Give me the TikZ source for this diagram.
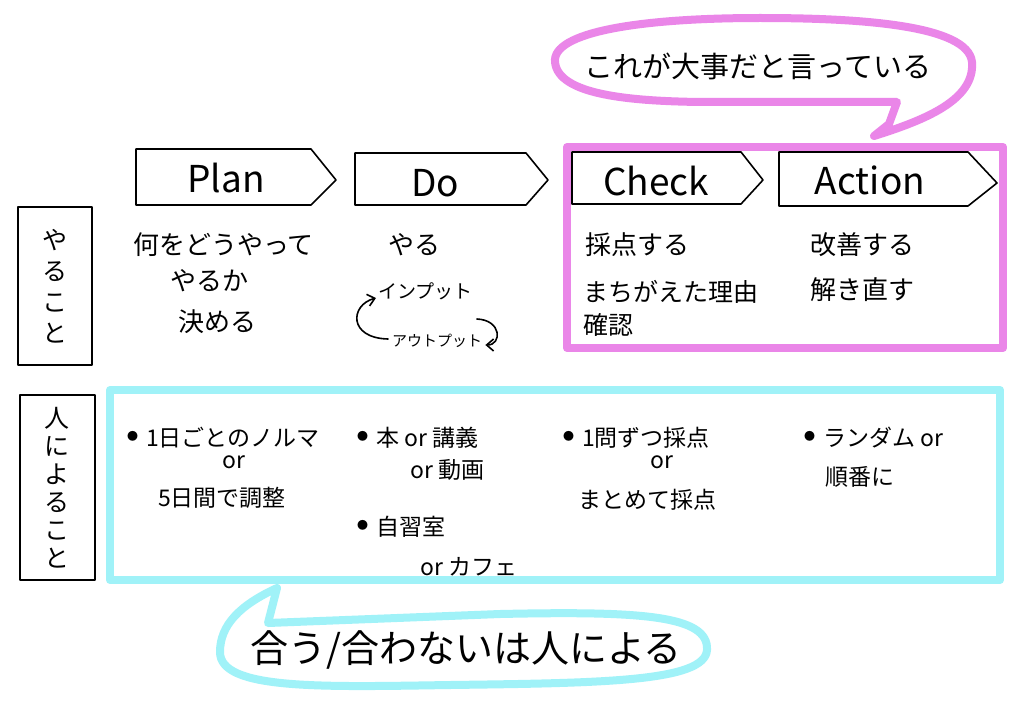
\documentclass[tikz,border=0pt]{standalone}
\usepackage{fontspec}
\setmainfont{Noto Sans CJK JP}
\usetikzlibrary{arrows.meta,calc}
\definecolor{hlpink}{RGB}{234,134,232}
\definecolor{hlcyan}{RGB}{160,242,248}
\newcommand{\bul}{\raisebox{6pt}{\fontsize{11}{11}\selectfont ●}\hspace{8pt}}
\tikzset{
  pinkline/.style={draw=hlpink,line width=8pt,line cap=round,line join=round},
  cyanline/.style={draw=hlcyan,line width=8pt,line cap=round,line join=round},
  inkline/.style={draw=black,line width=1.6pt,line join=round},
  txt/.style={inner sep=0pt,anchor=west,font=\fontsize{26}{30}\selectfont},
  small/.style={inner sep=0pt,anchor=west,font=\fontsize{23}{26}\selectfont},
  tiny/.style={inner sep=0pt,anchor=west,font=\fontsize{19}{20}\selectfont},
  stagelbl/.style={inner sep=0pt,font=\fontsize{37}{40}\selectfont},
  vlbl/.style={inner sep=0pt,align=center,font=\fontsize{25}{31}\selectfont},
  looparrow/.style={inkline,line cap=round,-{Straight Barb[length=7pt,width=12pt,line width=1.6pt]}},
}
\begin{document}
\begin{tikzpicture}[x=1pt,y=-1pt]
\useasboundingbox[fill=white] (0,0) rectangle (1024,706);

% top speech bubble
\draw[pinkline] (897,102) -- (889,124) -- (874,136)
  .. controls (925,120) and (975,100) .. (972,62)
  .. controls (968,25) and (860,18) .. (760,18)
  .. controls (640,18) and (552,32) .. (555,62)
  .. controls (558,95) and (630,101) .. (700,102) -- cycle;
\node[inner sep=0pt,font=\fontsize{29}{32}\selectfont] (imp) at (758,66) {これが大事だと言っている};

% pink frame around Check / Action
\draw[pinkline] (567,147) rectangle (1003,348);

% stage arrows
\draw[inkline] (136,149) -- (311,149) -- (336,180) -- (311,205) -- (136,205) -- cycle;
\node[stagelbl] (plan) at (226,178) {Plan};
\draw[inkline] (355,153) -- (526,153) -- (548,180) -- (526,205) -- (355,205) -- cycle;
\node[stagelbl] (do) at (435,183) {Do};
\draw[inkline] (572,152) -- (741,152) -- (763,180) -- (741,204) -- (572,204) -- cycle;
\node[stagelbl] (check) at (656,181) {Check};
\draw[inkline] (779,152) -- (968,152) -- (997,183) -- (968,206) -- (779,206) -- cycle;
\node[stagelbl] (action) at (870,180) {Action};

% row labels
\draw[inkline] (18,207) rectangle (92,365);
\node[vlbl] (yaru) at (55,286) {や\\る\\こ\\と};
\draw[inkline] (20,395) rectangle (95,580);
\node[vlbl,font=\fontsize{25}{28}\selectfont] (hito) at (57,488) {人\\に\\よ\\る\\こ\\と};

% Plan column
\node[txt] (p1) at (133,245) {何をどうやって};
\node[txt] (p2) at (170,281) {やるか};
\node[txt] (p3) at (178,322) {決める};

% Do column
\node[txt] (d1) at (388,245) {やる};
\node[tiny] (ip) at (378,291) {インプット};
\node[tiny,font=\fontsize{15}{18}\selectfont] (op) at (392,341) {アウトプット};
\coordinate (ipin) at ($(ip.west)+(-2,7)$);
\coordinate (rs) at ($(ip.east)+(4,28)$);
\coordinate (re) at ($(op.east)+(3,4)$);
\draw[looparrow] ($(op.west)+(-4,-2)$) .. controls (348,338) and (350,305) .. (ipin);
\draw[looparrow] (rs) .. controls (502,320) and (502,345) .. (re);

% Check column
\node[txt] (c1) at (585,245) {採点する};
\node[small,font=\fontsize{25}{28}\selectfont] (c2) at (583,292) {まちがえた理由};
\node[small,font=\fontsize{25}{28}\selectfont] (c3) at (583,325) {確認};

% Action column
\node[txt] (a1) at (810,245) {改善する};
\node[txt] (a2) at (810,290) {解き直す};

% cyan frame
\draw[cyanline] (110,390) rectangle (1000,580);

% person-dependent items
\node[small] (b1) at (127,438) {\bul 1日ごとのノルマ};
\node[small] (b1or) at (222,462) {or};
\node[small] (b1b) at (158,498) {5日間で調整};

\node[small] (b2) at (357,438) {\bul 本 or 講義};
\node[small] (b2b) at (410,470) {or 動画};
\node[small] (b3) at (357,527) {\bul 自習室};
\node[small] (b3b) at (420,567) {or カフェ};

\node[small] (b4) at (563,438) {\bul 1問ずつ採点};
\node[small] (b4or) at (650,462) {or};
\node[small] (b4b) at (578,500) {まとめて採点};

\node[small] (b5) at (804,438) {\bul ランダム or};
\node[small] (b5b) at (825,477) {順番に};

% bottom speech bubble
\draw[cyanline] (268,623) -- (277,588)
  .. controls (240,605) and (220,625) .. (220,652)
  .. controls (220,690) and (320,687) .. (450,685)
  .. controls (600,683) and (705,682) .. (707,650)
  .. controls (709,615) and (640,611) .. (500,614) -- cycle;
\node[inner sep=0pt,font=\fontsize{38}{40}\selectfont] (depends) at (466,650) {合う/合わないは人による};
\end{tikzpicture}
\end{document}
